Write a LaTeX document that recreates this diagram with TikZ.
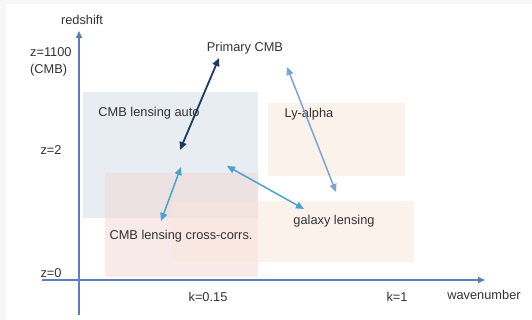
\documentclass[tikz,border=0pt]{standalone}
\usepackage{fontspec}
\setmainfont{Liberation Sans}
\usetikzlibrary{arrows.meta}
\definecolor{axisblue}{HTML}{5B80B8}
\definecolor{darknavy}{HTML}{1F3A5F}
\definecolor{lightarrow}{HTML}{7FA3D1}
\definecolor{tealarrow}{HTML}{4BA3C7}
\definecolor{autobox}{HTML}{E8EDF3}
\definecolor{crossbox}{HTML}{F0D6D4}
\definecolor{orangebox}{HTML}{FBE6DA}
\definecolor{txt}{HTML}{333333}
\begin{document}
\begin{tikzpicture}[x=1pt,y=-1pt,
  lbl/.style={font=\fontsize{12.8}{17}\selectfont, text=txt, inner sep=0pt},
  region/.style={draw=none, inner sep=0pt, anchor=north west},
  tip/.style={-{Triangle[length=8pt,width=7pt]}},
  dtip/.style={{Triangle[length=8pt,width=7pt]}-{Triangle[length=8pt,width=7pt]}}]
\useasboundingbox (0,0) rectangle (532,320);
\fill[black!3] (0,0) rectangle (532,320);
\fill[white] (6,4) rectangle (532,320);
% regions
\node[region, fill=autobox, minimum width=175pt, minimum height=126pt] (auto) at (83,92) {};
\node[region, fill=crossbox, fill opacity=0.5, minimum width=153pt, minimum height=104pt] (cross) at (105,173) {};
\node[region, fill=orangebox, fill opacity=0.5, minimum width=242pt, minimum height=61pt] (gal) at (172,201) {};
\node[region, fill=orangebox, fill opacity=0.5, minimum width=137pt, minimum height=73pt] (lya) at (268,103) {};
% axes
\coordinate (ybot) at (79,315);
\coordinate (ytop) at (79,31);
\coordinate (xleft) at (42,280);
\coordinate (xright) at (485,280);
\draw[axisblue, line width=1.5pt, -{Triangle[length=7pt,width=6pt]}] (ybot) -- (ytop);
\draw[axisblue, line width=1.5pt, -{Triangle[length=7pt,width=6pt]}] (xleft) -- (xright);
% axis labels
\node[lbl] (redshift) at (82,20) {redshift};
\node[lbl, anchor=west, align=left] (zcmb) at (30,61.5) {z=1100\\(CMB)};
\node[lbl] (z2) at (51,150) {z=2};
\node[lbl] (z0) at (51,273) {z=0};
\node[lbl] (k015) at (208,297) {k=0.15};
\node[lbl] (k1) at (397,297) {k=1};
\node[lbl] (wavenum) at (484,295) {wavenumber};
% region labels
\node[lbl] (tauto) at (149,113) {CMB lensing auto};
\node[lbl] (tlya) at (309,114) {Ly-alpha};
\node[lbl] (tpcmb) at (245,48) {Primary CMB};
\node[lbl] (tgal) at (334,221) {galaxy lensing};
\node[lbl] (tcross) at (181,236) {CMB lensing cross-corrs.};
% arrows
\coordinate (pA) at (219,58);
\coordinate (pB) at (180,150);
\coordinate (lA) at (287,67);
\coordinate (lB) at (336,192);
\coordinate (cA) at (181,167);
\coordinate (cB) at (161,221);
\coordinate (gA) at (227,166);
\coordinate (gB) at (304,209);
\draw[darknavy, line width=1.8pt, dtip] (pA) -- (pB);
\draw[lightarrow, line width=1.5pt, dtip] (lA) -- (lB);
\draw[tealarrow, line width=1.5pt, dtip] (cA) -- (cB);
\draw[tealarrow, line width=1.5pt, dtip] (gA) -- (gB);
\end{tikzpicture}
\end{document}
